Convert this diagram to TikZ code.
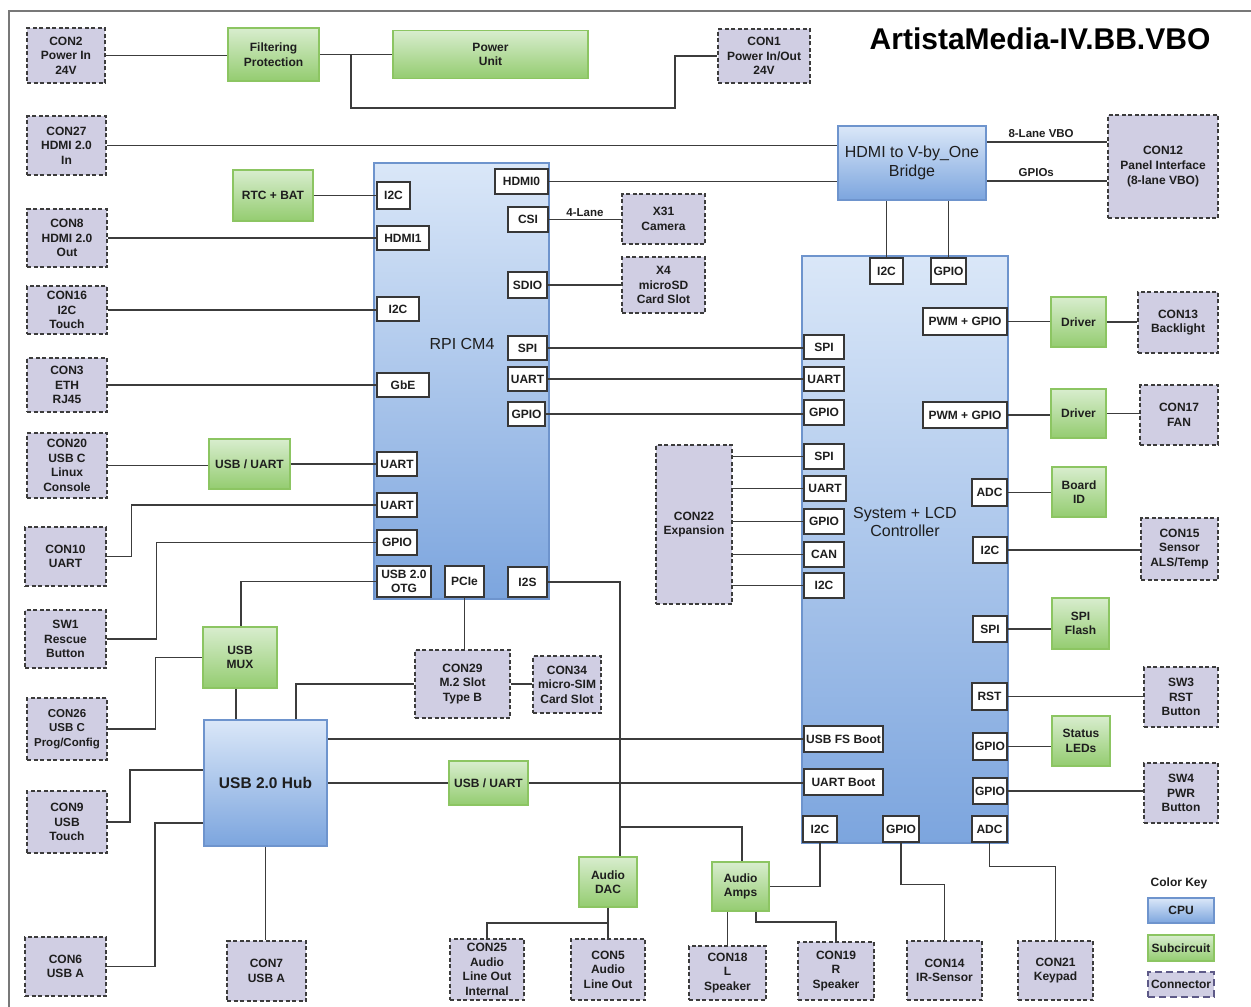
\documentclass[tikz,border=0pt]{standalone}
\usepackage{fontspec}
\setmainfont{Liberation Sans}
\definecolor{connfill}{RGB}{208,206,227}
\definecolor{cbord}{RGB}{60,60,60}
\definecolor{subbord}{RGB}{140,197,98}
\definecolor{subtop}{RGB}{216,237,206}
\definecolor{subbot}{RGB}{148,204,112}
\definecolor{cpubord}{RGB}{110,148,205}
\definecolor{cputop}{RGB}{218,231,248}
\definecolor{cpubot}{RGB}{124,165,222}
\definecolor{portbord}{RGB}{55,55,55}
\definecolor{wirecol}{RGB}{60,60,60}
\definecolor{txt}{RGB}{30,30,30}
\definecolor{framecol}{RGB}{120,120,120}
\definecolor{keyb}{RGB}{94,90,136}
\newcommand\mylbl{\fontsize{12}{14.6}\selectfont\bfseries}
\newcommand\mycpufont{\fontsize{16}{18.5}\selectfont}
\newcommand\myttlfont{\fontsize{30}{34}\selectfont\bfseries}
\newcommand\mywfont{\fontsize{11.5}{14}\selectfont\bfseries}
\tikzset{
  sz/.style 2 args={minimum width=#1pt, minimum height=#2pt},
  base/.style={inner sep=0pt, align=center, text=txt, font=\mylbl},
  conn/.style={base, draw=cbord, fill=connfill, line width=1.3pt, dash pattern=on 4pt off 2.5pt},
  sub/.style={base, draw=subbord, top color=subtop, bottom color=subbot, line width=1.8pt},
  cpu/.style={base, draw=cpubord, top color=cputop, bottom color=cpubot, line width=1.8pt},
  port/.style={base, draw=portbord, fill=white, line width=1.3pt},
  wire/.style={draw=wirecol, line width=1.3pt},
  wlab/.style={inner sep=0pt, font=\mywfont, text=txt}
}
\begin{document}
\begin{tikzpicture}[x=1pt,y=-1pt]
\useasboundingbox (0,0) rectangle (1251,1007);
\draw[framecol, line width=1.2pt] (9,1007) -- (9,11) -- (1251,11);

% title
\node[font=\myttlfont, text=black, inner sep=0pt] (title) at (1040,39) {ArtistaMedia-IV.BB.VBO};

% big blocks
\node[cpu, sz={175}{436}] (rpi) at (461.5,381) {};
\node[font=\mycpufont, text=txt] (rpilbl) at (462,344) {RPI CM4};
\node[cpu, sz={206}{587}] (sys) at (905,549.5) {};
\node[font=\mycpufont, text=txt, align=center] (syslbl) at (905,522) {System + LCD\\Controller};
\node[cpu, sz={148}{74}, font=\mycpufont, text=txt] (bridge) at (912,163) {HDMI to V-by\_One\\Bridge};
\node[cpu, sz={123}{126}, font={\fontsize{15.5}{18}\selectfont\bfseries}] (hub) at (265.5,783) {USB 2.0 Hub};

% top row
\node[conn, sz={78}{55}] (con2) at (66,55.5) {CON2\\Power In\\24V};
\node[sub, sz={91}{53}] (filt) at (273.5,54.5) {Filtering\\Protection};
\node[sub, sz={195}{48}] (pwr) at (490.5,54.5) {Power\\Unit};
\node[conn, sz={92}{54}] (con1) at (764,56) {CON1\\Power In/Out\\24V};

% left column
\node[conn, sz={79}{59}] (con27) at (66.5,145.5) {CON27\\HDMI 2.0\\In};
\node[conn, sz={80}{58}] (con8) at (67,238) {CON8\\HDMI 2.0\\Out};
\node[conn, sz={80}{48}] (con16) at (67,310) {CON16\\I2C\\Touch};
\node[sub, sz={80}{51}] (rtc) at (273,195.5) {RTC + BAT};
\node[conn, sz={80}{54}] (con3) at (67,385) {CON3\\ETH\\RJ45};
\node[conn, sz={80}{65}] (con20) at (67,465.5) {CON20\\USB C\\Linux\\Console};
\node[sub, sz={81}{50}] (uu1) at (249.5,464) {USB / UART};
\node[conn, sz={81}{59}] (con10) at (65.5,556.5) {CON10\\UART};
\node[conn, sz={81}{58}] (sw1) at (65.5,639) {SW1\\Rescue\\Button};
\node[sub, sz={74}{61}] (mux) at (240,657.5) {USB\\MUX};
\node[conn, sz={80}{62}, font={\fontsize{11.5}{14.6}\selectfont\bfseries}] (con26) at (67,729) {CON26\\USB C\\Prog/Config};
\node[conn, sz={80}{62}] (con9) at (67,822) {CON9\\USB\\Touch};
\node[conn, sz={81}{59}] (con6) at (65.5,966.5) {CON6\\USB A};
\node[conn, sz={79}{60}] (con7) at (266.5,971) {CON7\\USB A};
\node[sub, sz={79}{44}] (uu2) at (488.5,783) {USB / UART};
\node[conn, sz={95}{68}] (con29) at (462.5,684) {CON29\\M.2 Slot\\Type B};
\node[conn, sz={68}{57}] (con34) at (567,684.5) {CON34\\micro-SIM\\Card Slot};

% RPI ports
\node[port, sz={33}{27}] (ri2ca) at (393.5,195.5) {I2C};
\node[port, sz={52}{24}] (hdmi1) at (403,238) {HDMI1};
\node[port, sz={42}{24}] (ri2cb) at (398,309) {I2C};
\node[port, sz={52}{24}] (gbe) at (403,385) {GbE};
\node[port, sz={40}{24}] (ruarta) at (397,464) {UART};
\node[port, sz={40}{24}] (ruartb) at (397,505) {UART};
\node[port, sz={40}{25}] (rgpiol) at (397,542.5) {GPIO};
\node[port, sz={54}{31}, font={\fontsize{12}{13.5}\selectfont\bfseries}] (otg) at (404,581.5) {USB 2.0\\OTG};
\node[port, sz={39}{31}] (pcie) at (464.5,581.5) {PCIe};
\node[port, sz={39}{30}] (i2s) at (527.5,582) {I2S};
\node[port, sz={53}{25}] (hdmi0) at (521.5,181.5) {HDMI0};
\node[port, sz={40}{25}] (csi) at (528,219.5) {CSI};
\node[port, sz={39}{26}] (sdio) at (527.5,285) {SDIO};
\node[port, sz={39}{24}] (rspi) at (527.5,348) {SPI};
\node[port, sz={39}{24}] (ruartr) at (527.5,379) {UART};
\node[port, sz={37}{24}] (rgpior) at (526.5,414) {GPIO};

\node[conn, sz={83}{50}] (x31) at (663.5,219) {X31\\Camera};
\node[conn, sz={83}{56}] (x4) at (663.5,285) {X4\\microSD\\Card Slot};
\node[conn, sz={110}{103}] (con12) at (1163,166.5) {CON12\\Panel Interface\\(8-lane VBO)};
\node[conn, sz={76}{159}] (con22) at (694,524.5) {CON22\\Expansion};

% System ports
\node[port, sz={33}{26}] (si2ct) at (886.5,271) {I2C};
\node[port, sz={35}{26}] (sgpiot) at (948.5,271) {GPIO};
\node[port, sz={84}{27}] (spwm1) at (965,321.5) {PWM + GPIO};
\node[port, sz={84}{26}] (spwm2) at (965,415) {PWM + GPIO};
\node[port, sz={40}{24}] (sspia) at (824,347) {SPI};
\node[port, sz={40}{24}] (suarta) at (824,379) {UART};
\node[port, sz={40}{25}] (sgpioa) at (824,412.5) {GPIO};
\node[port, sz={40}{25}] (sspib) at (824,456.5) {SPI};
\node[port, sz={42}{25}] (suartb) at (825,488.5) {UART};
\node[port, sz={40}{25}] (sgpiob) at (824,521.5) {GPIO};
\node[port, sz={40}{25}] (scan) at (824,554.5) {CAN};
\node[port, sz={40}{25}] (si2cl) at (824,585.5) {I2C};
\node[port, sz={35}{27}] (sadc) at (989.5,492.5) {ADC};
\node[port, sz={34}{26}] (si2cr) at (990,550) {I2C};
\node[port, sz={34}{26}] (sspir) at (990,629) {SPI};
\node[port, sz={35}{27}] (srst) at (989.5,696.5) {RST};
\node[port, sz={34}{27}] (sgpior1) at (990,746.5) {GPIO};
\node[port, sz={34}{26}] (sgpior2) at (990,791) {GPIO};
\node[port, sz={79}{26}] (fsboot) at (843.5,739) {USB FS Boot};
\node[port, sz={79}{26}] (uartboot) at (843.5,782) {UART Boot};
\node[port, sz={34}{26}] (si2cb) at (820,829) {I2C};
\node[port, sz={36}{26}] (sgpiobt) at (901,829) {GPIO};
\node[port, sz={35}{26}] (sadcb) at (989.5,829) {ADC};

% right column
\node[sub, sz={55}{50}] (drv1) at (1078.5,322) {Driver};
\node[conn, sz={80}{61}] (con13) at (1178,322.5) {CON13\\Backlight};
\node[sub, sz={55}{49}] (drv2) at (1078.5,413.5) {Driver};
\node[conn, sz={78}{60}] (con17) at (1179,415) {CON17\\FAN};
\node[sub, sz={54}{50}] (boardid) at (1079,492) {Board\\ID};
\node[conn, sz={77}{62}] (con15) at (1179.5,549) {CON15\\Sensor\\ALS/Temp};
\node[sub, sz={57}{51}] (flash) at (1080.5,623.5) {SPI\\Flash};
\node[conn, sz={74}{60}] (sw3) at (1181,697) {SW3\\RST\\Button};
\node[sub, sz={58}{50}] (leds) at (1081,741) {Status\\LEDs};
\node[conn, sz={74}{60}] (sw4) at (1181,793) {SW4\\PWR\\Button};
\node[conn, sz={75}{59}] (con14) at (944.5,970.5) {CON14\\IR-Sensor};
\node[conn, sz={75}{59}] (con21) at (1055.5,970.5) {CON21\\Keypad};

% audio
\node[sub, sz={58}{50}] (dac) at (608,882) {Audio\\DAC};
\node[sub, sz={57}{49}] (amps) at (740.5,886.5) {Audio\\Amps};
\node[conn, sz={74}{61}] (con25) at (487,969.5) {CON25\\Audio\\Line Out\\Internal};
\node[conn, sz={74}{61}] (con5) at (608,969.5) {CON5\\Audio\\Line Out};
\node[conn, sz={77}{54}] (con18) at (727.5,973) {CON18\\L\\Speaker};
\node[conn, sz={76}{58}] (con19) at (836,971) {CON19\\R\\Speaker};

% key
\node[base] (keylbl) at (1179,883) {Color Key};
\node[cpu, sz={66}{25}] (kcpu) at (1181,910.5) {CPU};
\node[sub, sz={66}{26}] (ksub) at (1181,948) {Subcircuit};
\node[base, draw=keyb, fill=connfill, line width=2.2pt, dash pattern=on 7pt off 4pt, sz={66}{25}] (kconn) at (1181,984.5) {Connector};

% ---------- wires ----------
\draw[wire] (con2.east) -- (con2.east -| filt.west);
\draw[wire] (filt.east) -- (pwr.west);
\coordinate (pj) at (351,54.5);
\draw[wire] (pj) |- (675,108) |- (con1.west);

\draw[wire] (con27.east) -- (con27.east -| bridge.west);
\draw[wire] (hdmi0.east) -- (hdmi0.east -| bridge.west);
\draw[wire] ([yshift=21pt]bridge.east) -- ([yshift=21pt]bridge.east -| con12.west)
  node[pos=0.45, above=4pt, wlab] {8-Lane VBO};
\draw[wire] ([yshift=-18pt]bridge.east) -- ([yshift=-18pt]bridge.east -| con12.west)
  node[pos=0.41, above=4pt, wlab] {GPIOs};
\draw[wire] (si2ct.north) -- (si2ct.north |- bridge.south);
\draw[wire] (sgpiot.north) -- (sgpiot.north |- bridge.south);

\draw[wire] (rtc.east) -- (rtc.east -| ri2ca.west);
\draw[wire] (con8.east) -- (con8.east -| hdmi1.west);
\draw[wire] (con16.east) -- (con16.east -| ri2cb.west);
\draw[wire] (con3.east) -- (con3.east -| gbe.west);
\draw[wire] (con20.east) -- (con20.east -| uu1.west);
\draw[wire] (uu1.east) -- (uu1.east -| ruarta.west);
\draw[wire] (con10.east) -- ++(25,0) |- (ruartb.west);
\draw[wire] (sw1.east) -- ++(50,0) |- (rgpiol.west);
\draw[wire] (otg.west) -| ([xshift=1pt]mux.north);
\draw[wire] (con26.east) -- ++(48,0) |- (mux.west);
\draw[wire] ([xshift=-4pt]mux.south) -- ([xshift=-4pt]mux.south |- hub.north);
\draw[wire] ([xshift=30.5pt]hub.north) |- (con29.west);
\draw[wire] (pcie.south) -- (pcie.south |- con29.north);
\draw[wire] (con29.east) -- (con29.east -| con34.west);
\draw[wire] (fsboot.west -| hub.east) -- (fsboot.west);
\draw[wire] (hub.east) -- (uu2.west);
\draw[wire] (uu2.east) -- (uu2.east -| uartboot.west);
\draw[wire] ([yshift=13pt]hub.west) -- ++(-73,0) |- (con9.east);
\draw[wire] ([yshift=-40pt]hub.west) -- ++(-48,0) |- (con6.east);
\draw[wire] (hub.south) -- (hub.south |- con7.north);

\draw[wire] (csi.east) -- (csi.east -| x31.west) node[midway, above=2pt, wlab] {4-Lane};
\draw[wire] (sdio.east) -- (sdio.east -| x4.west);
\draw[wire] (rspi.east) -- (rspi.east -| sspia.west);
\draw[wire] (ruartr.east) -- (ruartr.east -| suarta.west);
\draw[wire] (rgpior.east) -- (rgpior.east -| sgpioa.west);

\draw[wire] (sspib.west -| con22.east) -- (sspib.west);
\draw[wire] (suartb.west -| con22.east) -- (suartb.west);
\draw[wire] (sgpiob.west -| con22.east) -- (sgpiob.west);
\draw[wire] (scan.west -| con22.east) -- (scan.west);
\draw[wire] (si2cl.west -| con22.east) -- (si2cl.west);

\draw[wire] (spwm1.east) -- (spwm1.east -| drv1.west);
\draw[wire] (drv1.east) -- (drv1.east -| con13.west);
\draw[wire] (spwm2.east) -- (spwm2.east -| drv2.west);
\draw[wire] (drv2.east) -- (drv2.east -| con17.west);
\draw[wire] (sadc.east) -- (sadc.east -| boardid.west);
\draw[wire] (si2cr.east) -- (si2cr.east -| con15.west);
\draw[wire] (sspir.east) -- (sspir.east -| flash.west);
\draw[wire] (srst.east) -- (srst.east -| sw3.west);
\draw[wire] (sgpior1.east) -- (sgpior1.east -| leds.west);
\draw[wire] (sgpior2.east) -- (sgpior2.east -| sw4.west);

\draw[wire] (sgpiobt.south) -- ++(0,42) -| (con14.north);
\draw[wire] (sadcb.south) -- ++(0,24) -| (con21.north);

\draw[wire] (i2s.east) -| ([xshift=12pt]dac.north);
\coordinate (abr) at ([xshift=12pt,yshift=29pt]dac.north);
\draw[wire] (abr) -| ([xshift=1.5pt]amps.north);
\draw[wire] (amps.east) -| (si2cb.south);
\draw[wire] (dac.south) -- (con5.north);
\draw[wire] (dac.south) -- ++(0,15) -| (con25.north);
\draw[wire] (con18.north) -- (con18.north |- amps.south);
\draw[wire] ([xshift=15.5pt]amps.south) -- ++(0,10) -| (con19.north);
\end{tikzpicture}
\end{document}
